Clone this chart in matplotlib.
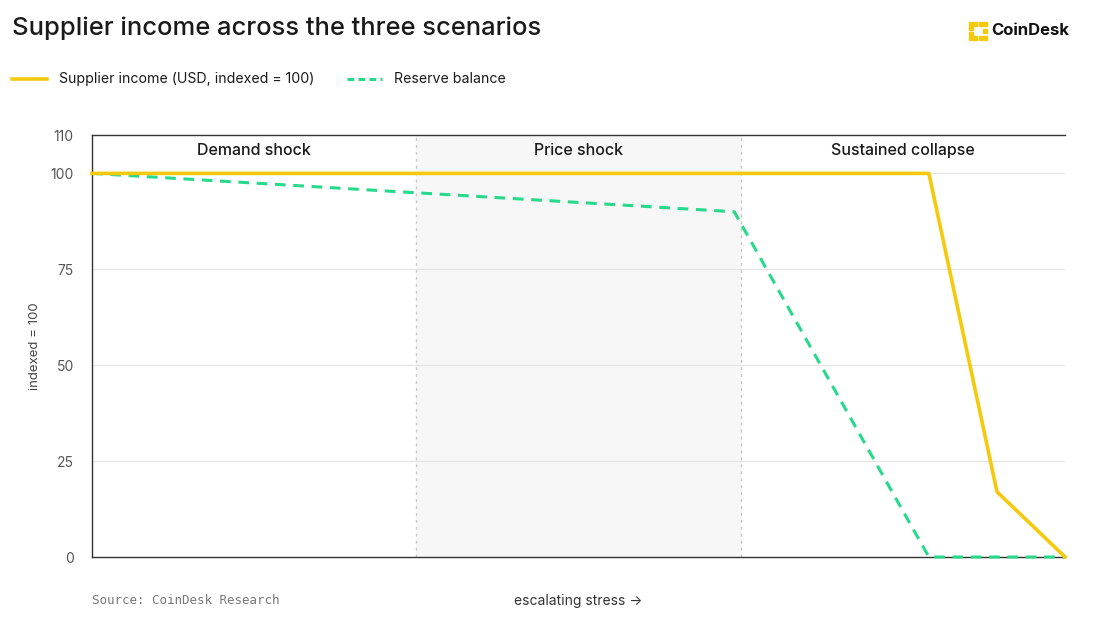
import matplotlib.pyplot as plt
from matplotlib.lines import Line2D
from matplotlib.patches import Rectangle

plt.rcParams['font.family'] = ['Inter', 'DejaVu Sans']

# data (x: 0-1 demand shock, 1-2 price shock, 2-3 sustained collapse)
income_x = [0, 2.58, 2.79, 3.0]
income_y = [100, 100, 17, 0]
reserve_x = [0, 1.98, 2.58, 3.0]
reserve_y = [100, 90, 0, 0]
scenarios = ["Demand shock", "Price shock", "Sustained collapse"]
yticks = [0, 25, 50, 75, 100, 110]

gold = "#f5c90c"
green = "#27d98a"

W, H = 1120, 626
fig = plt.figure(figsize=(W / 100, H / 100), dpi=100)
ax = fig.add_axes([0.0821, 0.1102, 0.8689, 0.6741])

ax.axvspan(1, 2, color="#f7f7f7", zorder=0)
for xv in [1, 2]:
    ax.axvline(xv, color="#c8c8c8", lw=1, ls=(0, (2, 3)), zorder=1)
for yv in [25, 50, 75, 100]:
    ax.axhline(yv, color="#e4e4e4", lw=0.9, zorder=1)

ax.plot(reserve_x, reserve_y, color=green, lw=2.2, ls=(0, (3.5, 2.5)), zorder=3,
        clip_on=False)
ax.plot(income_x, income_y, color=gold, lw=2.6, zorder=4, clip_on=False)

for i, name in enumerate(scenarios):
    ax.text(i + 0.5, 106, name, ha="center", va="center", fontsize=11.5,
            color="#1a1a1a", fontweight="medium")

ax.set_xlim(0, 3)
ax.set_ylim(0, 110)
ax.set_yticks(yticks)
ax.set_yticklabels([str(v) for v in yticks])
ax.set_xticks([])
ax.tick_params(axis="y", length=0, pad=13, labelsize=10, labelcolor="#555555")
for s in ["left", "bottom", "top"]:
    ax.spines[s].set_color("#333333")
    ax.spines[s].set_linewidth(1)
ax.spines["right"].set_visible(False)
ax.set_ylabel("indexed = 100", fontsize=9.5, color="#444444", labelpad=7)

# title
fig.text(0.011, 0.955, "Supplier income across the three scenarios", fontsize=18.4,
         color="#1a1a1a", va="center", ha="left", fontweight="medium")

# legend
fig.add_artist(Line2D([0.011, 0.042], [0.874, 0.874], color=gold, lw=2.6))
fig.text(0.053, 0.874, "Supplier income (USD, indexed = 100)", fontsize=10.2,
         va="center", color="#1a1a1a")
fig.add_artist(Line2D([0.31, 0.341], [0.874, 0.874], color=green, lw=2.2,
                      ls=(0, (2.2, 1.4))))
fig.text(0.352, 0.874, "Reserve balance", fontsize=10.2, va="center", color="#1a1a1a")

# logo: bracket of small squares
cells = [(c, 0) for c in range(4)] + [(c, 3) for c in range(4)] + [(0, 1), (0, 2), (3, 1.5)]
for (cx, cy) in cells:
    px = 969 + cx * 4.8
    py = H - 40 + cy * 4.8
    fig.add_artist(Rectangle((px / W, py / H), 3.6 / W, 3.6 / H, color=gold,
                             transform=fig.transFigure))
fig.text(991 / W, 0.951, "CoinDesk", fontsize=12, fontweight="bold", va="center",
         color="#111111")

# footer
fig.text(0.0821, 0.04, "Source: CoinDesk Research", fontsize=9, color="#777777",
         va="center", family="DejaVu Sans Mono")
fig.text(0.516, 0.04, "escalating stress \u2192", fontsize=10, color="#333333",
         va="center", ha="center")

fig.savefig("out.png", dpi=100)
